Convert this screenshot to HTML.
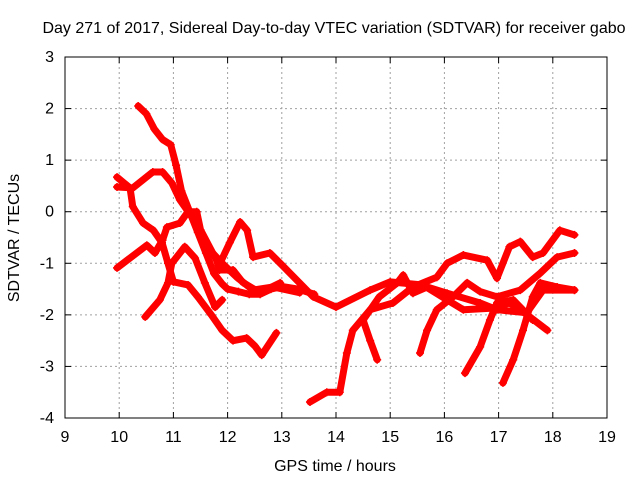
<!DOCTYPE html>
<html><head><meta charset="utf-8"><style>
body{margin:0;background:#fff}
svg{display:block;font-family:"Liberation Sans",sans-serif;font-size:16px}
</style></head><body>
<svg id="chart" width="640" height="480" viewBox="0 0 640 480">
<rect width="640" height="480" fill="#fff"/>
<text x="334" y="33" text-anchor="middle">Day 271 of 2017, Sidereal Day-to-day VTEC variation (SDTVAR) for receiver gabo</text>
<g id="grid"></g><g id="axes"></g><g id="series"></g>
<text x="335" y="471" text-anchor="middle">GPS time / hours</text>
<text transform="translate(19,238) rotate(-90)" text-anchor="middle">SDTVAR / TECUs</text>
</svg>
<script>
const xTicks=[9,10,11,12,13,14,15,16,17,18,19];
const yTicks=[-4,-3,-2,-1,0,1,2,3];
const trackA=[[10.35,2.05],[10.5,1.9],[10.65,1.6],[10.8,1.4],[10.95,1.3],[11.05,0.9],[11.15,0.4],[11.3,0],[11.45,-0.4],[11.6,-0.8],[11.75,-1.2],[11.9,-1.4],[12.0,-1.5],[12.2,-1.55],[12.4,-1.6],[12.6,-1.6],[12.8,-1.5],[13.0,-1.45],[13.3,-1.5],[13.6,-1.6]];
const trackB=[[9.96,0.67],[10.2,0.46],[10.25,0.1],[10.44,-0.22],[10.63,-0.36],[10.79,-0.6],[10.9,-1.0],[11.0,-1.36],[11.27,-1.42],[11.45,-1.65]];
const trackC=[[9.96,-1.09],[10.51,-0.65],[10.66,-0.8],[10.8,-0.55],[10.88,-0.3],[11.12,-0.22],[11.27,0],[11.43,0],[11.5,-0.35],[11.8,-0.95],[11.85,-1.13],[12.1,-1.13],[12.28,-1.37],[12.6,-1.57],[12.97,-1.38]];
const trackD=[[10.48,-2.04],[10.75,-1.71],[10.9,-1.38],[10.97,-1.0],[11.21,-0.68],[11.4,-0.9],[11.58,-1.38],[11.77,-1.85],[11.9,-1.71]];
const trackE=[[9.96,0.48],[10.25,0.46],[10.62,0.77],[10.8,0.77],[10.97,0.56],[11.12,0.23],[11.34,-0.1],[11.49,-0.41],[11.67,-0.74],[11.9,-1.0],[12.17,-1.27],[12.47,-1.52],[12.84,-1.46],[13.33,-1.57]];
const trackF=[[11.86,-1.0],[12.04,-0.6],[12.23,-0.2],[12.36,-0.36],[12.47,-0.88],[12.78,-0.8],[13.0,-1.03],[13.58,-1.65],[14.0,-1.85],[14.63,-1.52],[15.0,-1.36],[15.6,-1.42],[16.05,-1.71],[16.35,-1.9],[16.9,-1.87],[17.2,-1.77],[17.4,-1.9],[17.9,-2.3]];
const trackB2=[[11.45,-1.65],[11.7,-2.0],[11.9,-2.3],[12.1,-2.5],[12.35,-2.45],[12.5,-2.6],[12.63,-2.78],[12.9,-2.35]];
const trackG=[[13.52,-3.69],[13.83,-3.5],[14.07,-3.5],[14.2,-2.74],[14.31,-2.3],[14.63,-1.9],[15.05,-1.77],[15.42,-1.46],[15.86,-1.27],[16.05,-1.0],[16.35,-0.84],[16.79,-0.94],[16.97,-1.29],[17.2,-0.68],[17.4,-0.58],[17.63,-0.88],[17.82,-0.8],[18.13,-0.36],[18.4,-0.45]];
const trackH=[[14.76,-2.87],[14.63,-2.5],[14.5,-2.1],[14.8,-1.65],[15.13,-1.38],[15.24,-1.23],[15.42,-1.58],[15.68,-1.46],[16.05,-1.58],[16.66,-1.77],[16.97,-1.9],[17.52,-1.96],[17.82,-1.52],[18.4,-1.52]];
const trackI=[[15.55,-2.74],[15.68,-2.3],[15.86,-1.9],[16.16,-1.65],[16.42,-1.38],[16.66,-1.55],[16.97,-1.65],[17.4,-1.52],[17.77,-1.19],[18.08,-0.88],[18.4,-0.8]];
const trackJ=[[16.38,-3.13],[16.66,-2.62],[16.84,-2.1],[16.97,-1.77],[17.27,-1.71],[17.63,-2.1]];
const trackK=[[17.08,-3.32],[17.27,-2.87],[17.45,-2.3],[17.63,-1.65],[17.77,-1.38],[18.08,-1.46],[18.4,-1.52]];
const tracks=[trackA,trackB,trackB2,trackC,trackD,trackE,trackF,trackG,trackH,trackI,trackJ,trackK];

const NS="http://www.w3.org/2000/svg";
const L=65,R=607,T=57,B=418;
const sx=v=>L+(v-9)/(19-9)*(R-L);
const sy=v=>B-(v+4)/(3+4)*(B-T);
function mk(t,a,p){const e=document.createElementNS(NS,t);for(const k in a)e.setAttribute(k,a[k]);p.appendChild(e);return e;}
const grid=document.getElementById('grid'),axes=document.getElementById('axes'),ser=document.getElementById('series');
xTicks.forEach(v=>{const x=sx(v);
 if(v>9&&v<19){const g=mk('line',{x1:x,x2:x,y1:T,y2:B,stroke:'#a0a0a0','stroke-dasharray':'2,3'},grid);
 
 }
 mk('line',{x1:x,x2:x,y1:B,y2:B-6,stroke:'#000'},axes);mk('line',{x1:x,x2:x,y1:T,y2:T+6,stroke:'#000'},axes);
 const t=mk('text',{x:x,y:B+24,'text-anchor':'middle'},axes);t.textContent=v;
 
 });
yTicks.forEach(v=>{const y=sy(v);
 if(v>-4&&v<3){const g=mk('line',{x1:L,x2:R,y1:y,y2:y,stroke:'#a0a0a0','stroke-dasharray':'2,3'},grid);
 
 }
 mk('line',{x1:L,x2:L+6,y1:y,y2:y,stroke:'#000'},axes);mk('line',{x1:R,x2:R-6,y1:y,y2:y,stroke:'#000'},axes);
 const t=mk('text',{x:L-11,y:y+5,'text-anchor':'end'},axes);t.textContent=v;
 
 });
const fr=mk('rect',{x:L,y:T,width:R-L,height:B-T,fill:'none',stroke:'#000'},axes);


tracks.forEach((tr)=>{
 const pl=mk('polyline',{points:tr.map(p=>sx(p[0])+','+sy(p[1])).join(' '),fill:'none',stroke:'#ff0000','stroke-width':7,'stroke-linejoin':'round','stroke-linecap':'round'},ser);
 
 
 tr.forEach(p=>{const x=sx(p[0]),y=sy(p[1]);
  const m=mk('path',{d:`M${x-4},${y}H${x+4}M${x},${y-4}V${y+4}`,stroke:'#ff0000','stroke-width':1.5},ser);
  
  });
});
</script>
</body></html>
